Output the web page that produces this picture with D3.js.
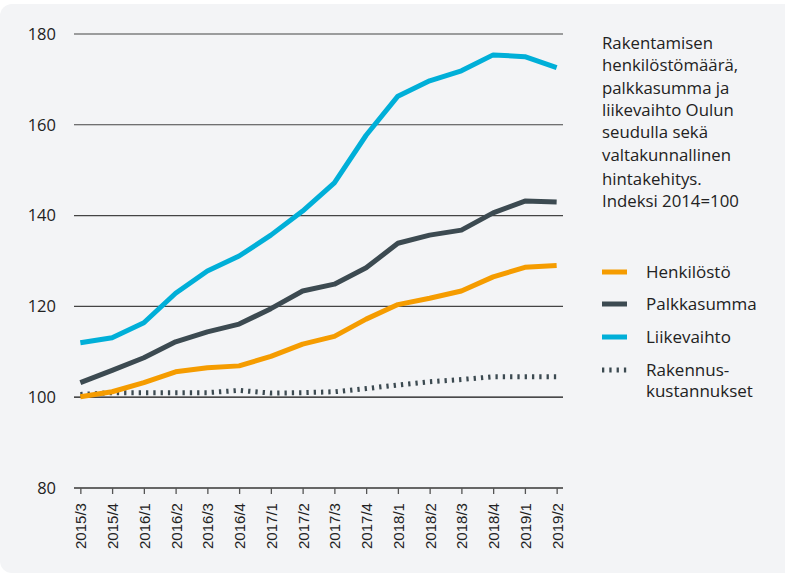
<!DOCTYPE html>
<html lang="fi">
<head>
    <meta charset="UTF-8">
    <script src="https://cdn.jsdelivr.net/npm/d3@7"></script>
    <style>
        body { margin: 0; background: #fff; font-family: "Open Sans", Lato, sans-serif; }
        svg { display: block; }
    </style>
</head>
<body>
<script>
    // neljännekset
    var quarters = ["2015/3","2015/4","2016/1","2016/2","2016/3","2016/4","2017/1","2017/2",
        "2017/3","2017/4","2018/1","2018/2","2018/3","2018/4","2019/1","2019/2"];

    var henkilosto = [100.1,101.2,103.2,105.6,106.5,106.9,109.0,111.7,113.4,117.2,120.4,121.8,123.4,126.5,128.6,129.0];
    var palkkasumma = [103.2,105.9,108.7,112.2,114.4,116.1,119.5,123.4,124.9,128.5,133.9,135.7,136.8,140.6,143.2,143.0];
    var liikevaihto = [112.0,113.1,116.4,122.9,127.8,131.1,135.7,141.0,147.2,157.7,166.3,169.7,171.9,175.4,175.0,172.6];
    var rakennus = [100.6,101.0,101.0,101.0,101.0,101.5,100.9,101.0,101.2,101.9,102.7,103.4,103.9,104.5,104.5,104.5];

    var yTicks = [80,100,120,140,160,180];

    var seriesNames = ["Henkilöstö","Palkkasumma","Liikevaihto","Rakennus-\nkustannukset"];
    var seriesColors = ["#f59c00","#3c4a51","#00afd8","#3c4a51"];

    var titleLines = ["Rakentamisen","henkilöstömäärä,","palkkasumma ja","liikevaihto Oulun",
        "seudulla sekä","valtakunnallinen","hintakehitys.","Indeksi 2014=100"];

    var W = 785, H = 574;
    var svg = d3.select("body").append("svg").attr("width", W).attr("height", H);

    // taustakortti
    svg.append("rect").attr("x", 0).attr("y", 4).attr("width", W + 20).attr("height", H - 5)
        .attr("rx", 12).attr("fill", "#f3f4f6");

    var x = d3.scalePoint().domain(quarters).range([74, 563]).padding(0.2);
    var y = d3.scaleLinear().domain([80, 180]).range([488, 34]);

    // vaakaviivat
    svg.append("g").selectAll("line")
        .data(yTicks.filter(d => d > 80))
        .enter().append("line")
        .attr("x1", 74).attr("x2", 563)
        .attr("y1", d => y(d)).attr("y2", d => y(d))
        .attr("stroke", d => d == 100 ? "#111" : "#444")
        .attr("stroke-width", d => d == 100 ? 1.3 : 1.1);

    // y-akselin tekstit
    svg.append("g").selectAll("text")
        .data(yTicks)
        .enter().append("text")
        .attr("x", 56).attr("y", d => y(d))
        .attr("dy", "0.35em")
        .attr("text-anchor", "end")
        .attr("font-size", 16.5)
        .attr("fill", "#222")
        .text(d => d);

    // x-akseli
    var xAxis = svg.append("g")
        .attr("transform", "translate(0," + y(80) + ")")
        .call(d3.axisBottom(x).tickSize(6).tickSizeOuter(0));
    xAxis.select(".domain").attr("d", "M74,0H563").attr("stroke", "#666").attr("stroke-width", 2);
    xAxis.selectAll(".tick line").attr("stroke", "#555").attr("stroke-width", 1.3);
    xAxis.selectAll(".tick text")
        .attr("transform", "rotate(-90)")
        .attr("x", -15).attr("y", 0).attr("dy", "0.35em")
        .attr("text-anchor", "end")
        .attr("font-family", "'Liberation Sans', Arial, sans-serif")
        .attr("font-size", 15.5)
        .attr("textLength", 46)
        .attr("lengthAdjust", "spacingAndGlyphs")
        .attr("fill", "#222");

    var line = d3.line()
        .x((d, i) => x(quarters[i]))
        .y(d => y(d));

    svg.append("path").datum(rakennus)
        .attr("d", line).attr("fill", "none")
        .attr("stroke", seriesColors[3]).attr("stroke-width", 5)
        .attr("stroke-dasharray", "2.3,5");

    [henkilosto, palkkasumma, liikevaihto].forEach(function (s, i) {
        svg.append("path").datum(s)
            .attr("d", line).attr("fill", "none")
            .attr("stroke", seriesColors[i]).attr("stroke-width", 5)
            .attr("stroke-linejoin", "round");
    });

    // otsikko oikealla
    svg.append("text")
        .attr("x", 602).attr("y", 49)
        .attr("font-size", 16.8).attr("fill", "#222")
        .selectAll("tspan")
        .data(titleLines)
        .enter().append("tspan")
        .attr("x", 602)
        .attr("dy", (d, i) => i == 0 ? 0 : (i == 6 ? 24.5 : 22.3))
        .text(d => d);

    // selite
    var legendY = [272, 304, 337, 370];
    var leg = svg.append("g").selectAll("g")
        .data(seriesNames)
        .enter().append("g")
        .attr("transform", (d, i) => "translate(0," + legendY[i] + ")");

    leg.append("line")
        .attr("x1", 602).attr("x2", 627).attr("y1", 0).attr("y2", 0)
        .attr("stroke", (d, i) => seriesColors[i]).attr("stroke-width", 5)
        .attr("stroke-dasharray", (d, i) => i == 3 ? "2.3,5" : null);

    leg.append("text")
        .attr("x", 646).attr("y", 0)
        .attr("font-size", 17).attr("fill", "#222")
        .selectAll("tspan")
        .data(d => d.split("\n"))
        .enter().append("tspan")
        .attr("x", 646)
        .attr("dy", (d, i) => i == 0 ? "0.35em" : 21.5)
        .text(d => d);
</script>
</body>
</html>
